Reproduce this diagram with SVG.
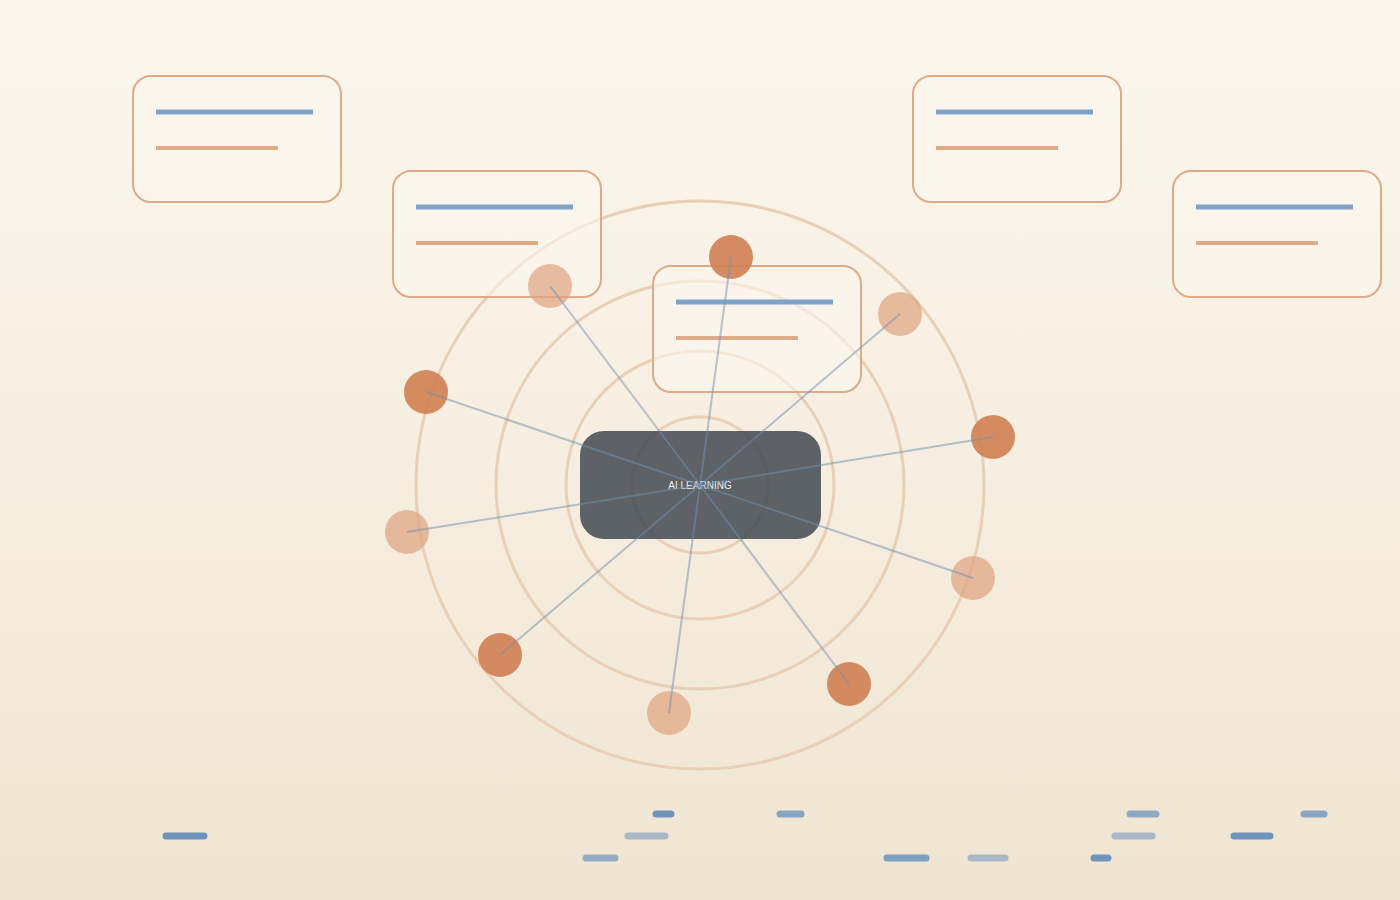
<svg xmlns="http://www.w3.org/2000/svg" width="1400" height="900" viewBox="0 0 1400 900">
<defs>
<linearGradient id="bg" x1="0" y1="0" x2="0" y2="1"><stop offset="0" stop-color="#fcf7ee"/><stop offset="1" stop-color="#f0e5d2"/></linearGradient>
<style>
.ring{fill:none;stroke:#e8cfb6;stroke-width:3}
.card{fill:#fbf6ef;fill-opacity:0.6;stroke:#dfaa88;stroke-width:2}
.lb{stroke:#7fa3c6;stroke-width:5}
.lo{stroke:#dfaa88;stroke-width:4}
.dk{fill:#d07f52;fill-opacity:0.9}
.lt{fill:#dea37f;fill-opacity:0.7}
.cn line{stroke:#6f8fb0;stroke-opacity:0.5;stroke-width:2}
.pill{stroke-width:7;stroke-linecap:round}
</style>
</defs>
<rect width="1400" height="900" fill="url(#bg)"/>
<g id="rings">
<circle class="ring" cx="700" cy="485" r="68"/>
<circle class="ring" cx="700" cy="485" r="134"/>
<circle class="ring" cx="700" cy="485" r="204"/>
<circle class="ring" cx="700" cy="485" r="284"/>
</g>
<g id="card1"><rect class="card" x="133" y="76" width="208" height="126" rx="18"/><line class="lb" x1="156" y1="112" x2="313" y2="112"/><line class="lo" x1="156" y1="148" x2="278" y2="148"/></g>
<g id="card2"><rect class="card" x="393" y="171" width="208" height="126" rx="18"/><line class="lb" x1="416" y1="207" x2="573" y2="207"/><line class="lo" x1="416" y1="243" x2="538" y2="243"/></g>
<g id="card3"><rect class="card" x="653" y="266" width="208" height="126" rx="18"/><line class="lb" x1="676" y1="302" x2="833" y2="302"/><line class="lo" x1="676" y1="338" x2="798" y2="338"/></g>
<g id="card4"><rect class="card" x="913" y="76" width="208" height="126" rx="18"/><line class="lb" x1="936" y1="112" x2="1093" y2="112"/><line class="lo" x1="936" y1="148" x2="1058" y2="148"/></g>
<g id="card5"><rect class="card" x="1173" y="171" width="208" height="126" rx="18"/><line class="lb" x1="1196" y1="207" x2="1353" y2="207"/><line class="lo" x1="1196" y1="243" x2="1318" y2="243"/></g>
<g id="center"><rect x="580" y="431" width="241" height="108" rx="24" fill="#3c434c" fill-opacity="0.82"/><text x="700" y="489" text-anchor="middle" font-family="Liberation Sans, Arial, sans-serif" font-size="10" fill="#f2f2f2">AI LEARNING</text></g>
<g id="orbit">
<circle class="dk" cx="731" cy="257" r="22"/><circle class="lt" cx="900" cy="314" r="22"/><circle class="dk" cx="993" cy="437" r="22"/><circle class="lt" cx="973" cy="578" r="22"/><circle class="dk" cx="849" cy="684" r="22"/><circle class="lt" cx="669" cy="713" r="22"/><circle class="dk" cx="500" cy="655" r="22"/><circle class="lt" cx="407" cy="532" r="22"/><circle class="dk" cx="426" cy="392" r="22"/><circle class="lt" cx="550" cy="286" r="22"/>
</g>
<g id="connectors" class="cn">
<line x1="700" y1="485" x2="731" y2="257"/><line x1="700" y1="485" x2="900" y2="314"/><line x1="700" y1="485" x2="993" y2="437"/><line x1="700" y1="485" x2="973" y2="578"/><line x1="700" y1="485" x2="849" y2="684"/><line x1="700" y1="485" x2="669" y2="713"/><line x1="700" y1="485" x2="500" y2="655"/><line x1="700" y1="485" x2="407" y2="532"/><line x1="700" y1="485" x2="426" y2="392"/><line x1="700" y1="485" x2="550" y2="286"/>
</g>
<g id="pills" class="pill">
<line x1="656" y1="814" x2="671" y2="814" stroke="#6f94bb"/><line x1="780" y1="814" x2="801" y2="814" stroke="#88a4c0"/><line x1="1130" y1="814" x2="1156" y2="814" stroke="#8fa9c2"/><line x1="1304" y1="814" x2="1324" y2="814" stroke="#88a4c0"/>
<line x1="166" y1="836" x2="204" y2="836" stroke="#6f94bb"/><line x1="628" y1="836" x2="665" y2="836" stroke="#a8b8c6"/><line x1="1115" y1="836" x2="1152" y2="836" stroke="#a8b8c6"/><line x1="1234" y1="836" x2="1270" y2="836" stroke="#6f94bb"/>
<line x1="586" y1="858" x2="615" y2="858" stroke="#95adc4"/><line x1="887" y1="858" x2="926" y2="858" stroke="#7d9ebe"/><line x1="971" y1="858" x2="1005" y2="858" stroke="#a8b8c6"/><line x1="1094" y1="858" x2="1108" y2="858" stroke="#6f94bb"/>
</g>
</svg>
